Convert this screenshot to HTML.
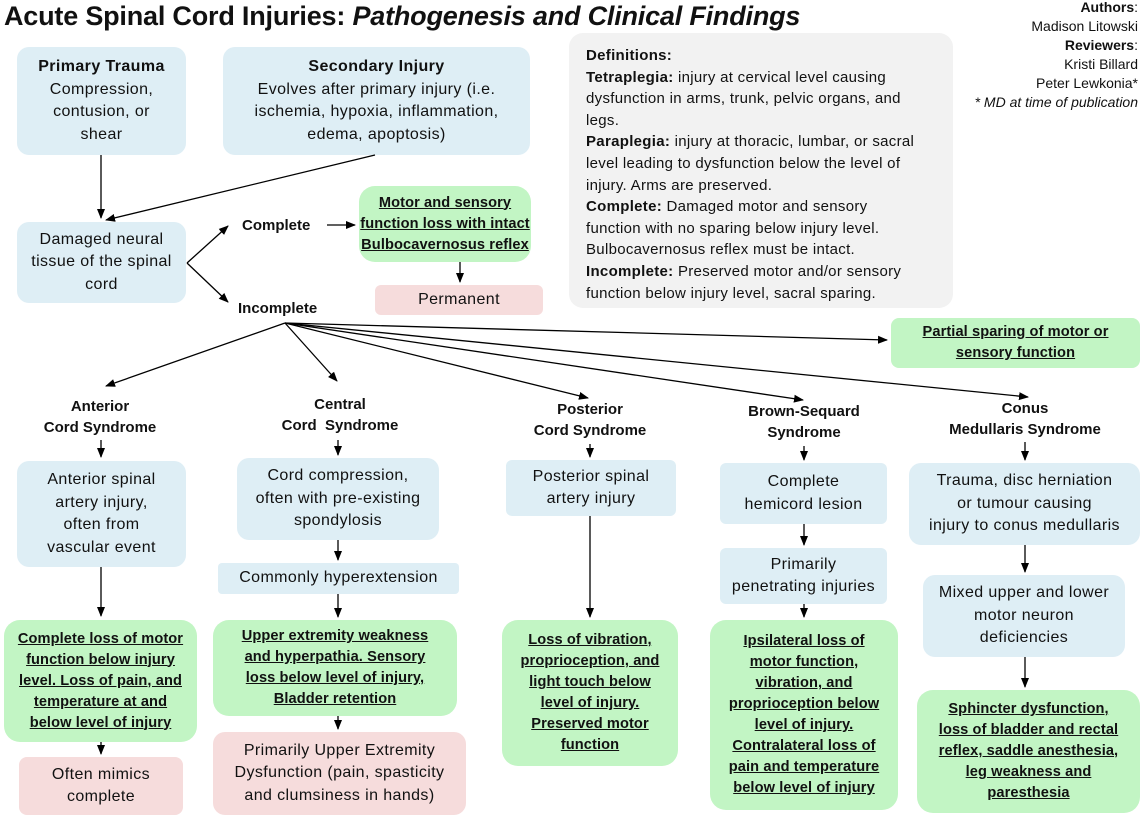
<!DOCTYPE html>
<html><head><meta charset="utf-8"><style>
body{margin:0;width:1142px;height:823px;background:#fff;position:relative;font-family:"Liberation Sans",sans-serif;color:#111;overflow:hidden}
.b{position:absolute;display:flex;align-items:center;justify-content:center;text-align:center;border-radius:12px;font-size:16px;letter-spacing:0.4px;line-height:22.5px;box-sizing:border-box;padding:0 2px;white-space:nowrap}
.bl{background:#deeef5}
.gr{background:#c2f5c4;font-weight:bold;text-decoration:underline;font-size:14.6px;line-height:21px;border-radius:16px;letter-spacing:0.1px}
.pk{background:#f6dcdc;border-radius:6px}
.h{position:absolute;font-weight:bold;font-size:15px;text-align:center;line-height:21px;white-space:nowrap}
svg{position:absolute;left:0;top:0}
</style></head><body>
<div style="position:absolute;left:4px;top:1px;font-size:27px;font-weight:bold;letter-spacing:-0.2px;white-space:nowrap">Acute Spinal Cord Injuries: <i>Pathogenesis and Clinical Findings</i></div>
<div style="position:absolute;right:4px;top:-2px;text-align:right;font-size:14px;line-height:19px"><b>Authors</b>:<br>Madison Litowski<br><b>Reviewers</b>:<br>Kristi Billard<br>Peter Lewkonia*<br><i>* MD at time of publication</i></div>
<div class="b bl" style="left:17px;top:47px;width:169px;height:108px"><div><b>Primary Trauma</b><br>Compression,<br>contusion, or<br>shear</div></div>
<div class="b bl" style="left:223px;top:47px;width:307px;height:108px"><div><b>Secondary Injury</b><br>Evolves after primary injury (i.e.<br>ischemia, hypoxia, inflammation,<br>edema, apoptosis)</div></div>
<div style="position:absolute;left:569px;top:33px;width:384px;height:275px;background:#f2f2f2;border-radius:14px;box-sizing:border-box;padding:12px 0 0 17px;font-size:15px;line-height:21.6px;white-space:nowrap;letter-spacing:0.3px"><b>Definitions:</b><br><b>Tetraplegia:</b> injury at cervical level causing<br>dysfunction in arms, trunk, pelvic organs, and<br>legs.<br><b>Paraplegia:</b> injury at thoracic, lumbar, or sacral<br>level leading to dysfunction below the level of<br>injury. Arms are preserved.<br><b>Complete:</b> Damaged motor and sensory<br>function with no sparing below injury level.<br>Bulbocavernosus reflex must be intact.<br><b>Incomplete:</b> Preserved motor and/or sensory<br>function below injury level, sacral sparing.</div>
<div class="b bl" style="left:17px;top:222px;width:169px;height:81px">Damaged neural<br>tissue of the spinal<br>cord</div>
<div class="h" style="left:242px;top:215px">Complete</div>
<div class="h" style="left:238px;top:298px">Incomplete</div>
<div class="b gr" style="left:359px;top:186px;width:172px;height:76px">Motor and sensory<br>function loss with intact<br>Bulbocavernosus reflex</div>
<div class="b pk" style="left:375px;top:285px;width:168px;height:30px">Permanent</div>
<div class="b gr" style="left:891px;top:318px;width:249px;height:50px;border-radius:8px">Partial sparing of motor or<br>sensory function</div>
<div class="h" style="left:40px;top:396px;width:120px">Anterior<br>Cord Syndrome</div>
<div class="h" style="left:270px;top:394px;width:140px">Central<br>Cord &nbsp;Syndrome</div>
<div class="h" style="left:520px;top:399px;width:140px">Posterior<br>Cord Syndrome</div>
<div class="h" style="left:734px;top:401px;width:140px">Brown-Sequard<br>Syndrome</div>
<div class="h" style="left:940px;top:398px;width:170px">Conus<br>Medullaris Syndrome</div>
<div class="b bl" style="left:17px;top:461px;width:169px;height:106px">Anterior spinal<br>artery injury,<br>often from<br>vascular event</div>
<div class="b gr" style="left:4px;top:620px;width:193px;height:122px">Complete loss of motor<br>function below injury<br>level. Loss of pain, and<br>temperature at and<br>below level of injury</div>
<div class="b pk" style="left:19px;top:757px;width:164px;height:58px;border-radius:8px">Often mimics<br>complete</div>
<div class="b bl" style="left:237px;top:458px;width:202px;height:82px">Cord compression,<br>often with pre-existing<br>spondylosis</div>
<div class="b bl" style="left:218px;top:563px;width:241px;height:31px;border-radius:4px">Commonly hyperextension</div>
<div class="b gr" style="left:213px;top:620px;width:244px;height:96px">Upper extremity weakness<br>and hyperpathia. Sensory<br>loss below level of injury,<br>Bladder retention</div>
<div class="b pk" style="left:213px;top:732px;width:253px;height:83px;border-radius:12px">Primarily Upper Extremity<br>Dysfunction (pain, spasticity<br>and clumsiness in hands)</div>
<div class="b bl" style="left:506px;top:460px;width:170px;height:56px;border-radius:6px">Posterior spinal<br>artery injury</div>
<div class="b gr" style="left:502px;top:620px;width:176px;height:146px">Loss of vibration,<br>proprioception, and<br>light touch below<br>level of injury.<br>Preserved motor<br>function</div>
<div class="b bl" style="left:720px;top:463px;width:167px;height:61px;border-radius:6px">Complete<br>hemicord lesion</div>
<div class="b bl" style="left:720px;top:548px;width:167px;height:56px;border-radius:6px">Primarily<br>penetrating injuries</div>
<div class="b gr" style="left:710px;top:620px;width:188px;height:190px">Ipsilateral loss of<br>motor function,<br>vibration, and<br>proprioception below<br>level of injury.<br>Contralateral loss of<br>pain and temperature<br>below level of injury</div>
<div class="b bl" style="left:909px;top:463px;width:231px;height:82px">Trauma, disc herniation<br>or tumour causing<br>injury to conus medullaris</div>
<div class="b bl" style="left:923px;top:575px;width:202px;height:82px">Mixed upper and lower<br>motor neuron<br>deficiencies</div>
<div class="b gr" style="left:917px;top:690px;width:223px;height:123px">Sphincter dysfunction,<br>loss of bladder and rectal<br>reflex, saddle anesthesia,<br>leg weakness and<br>paresthesia</div>
<svg width="1142" height="823"><defs><marker id="a" markerWidth="10" markerHeight="10" refX="9" refY="5" orient="auto" markerUnits="userSpaceOnUse"><path d="M0,1 L10,5 L0,9z" fill="#000"/></marker></defs>
<g stroke="#000" stroke-width="1.3" fill="none" marker-end="url(#a)">
<path d="M101,155 V218"/><path d="M375,155 L106,220"/>
<path d="M187,263 L228,226"/><path d="M187,263 L228,302"/>
<path d="M327,225 H355"/><path d="M460,262 V282"/>
<path d="M285,323 L106,386"/><path d="M285,323 L337,381"/><path d="M285,323 L588,398"/><path d="M285,323 L803,400"/><path d="M285,323 L1028,397"/><path d="M285,323 L887,340"/>
<path d="M101,440 V457"/><path d="M338,440 V455"/><path d="M590,444 V457"/><path d="M804,446 V460"/><path d="M1025,442 V460"/>
<path d="M101,567 V616"/><path d="M101,742 V754"/>
<path d="M338,540 V560"/><path d="M338,594 V617"/><path d="M338,716 V729"/>
<path d="M590,516 V617"/><path d="M804,524 V545"/><path d="M804,604 V617"/>
<path d="M1025,545 V572"/><path d="M1025,657 V687"/>
</g></svg>
</body></html>
